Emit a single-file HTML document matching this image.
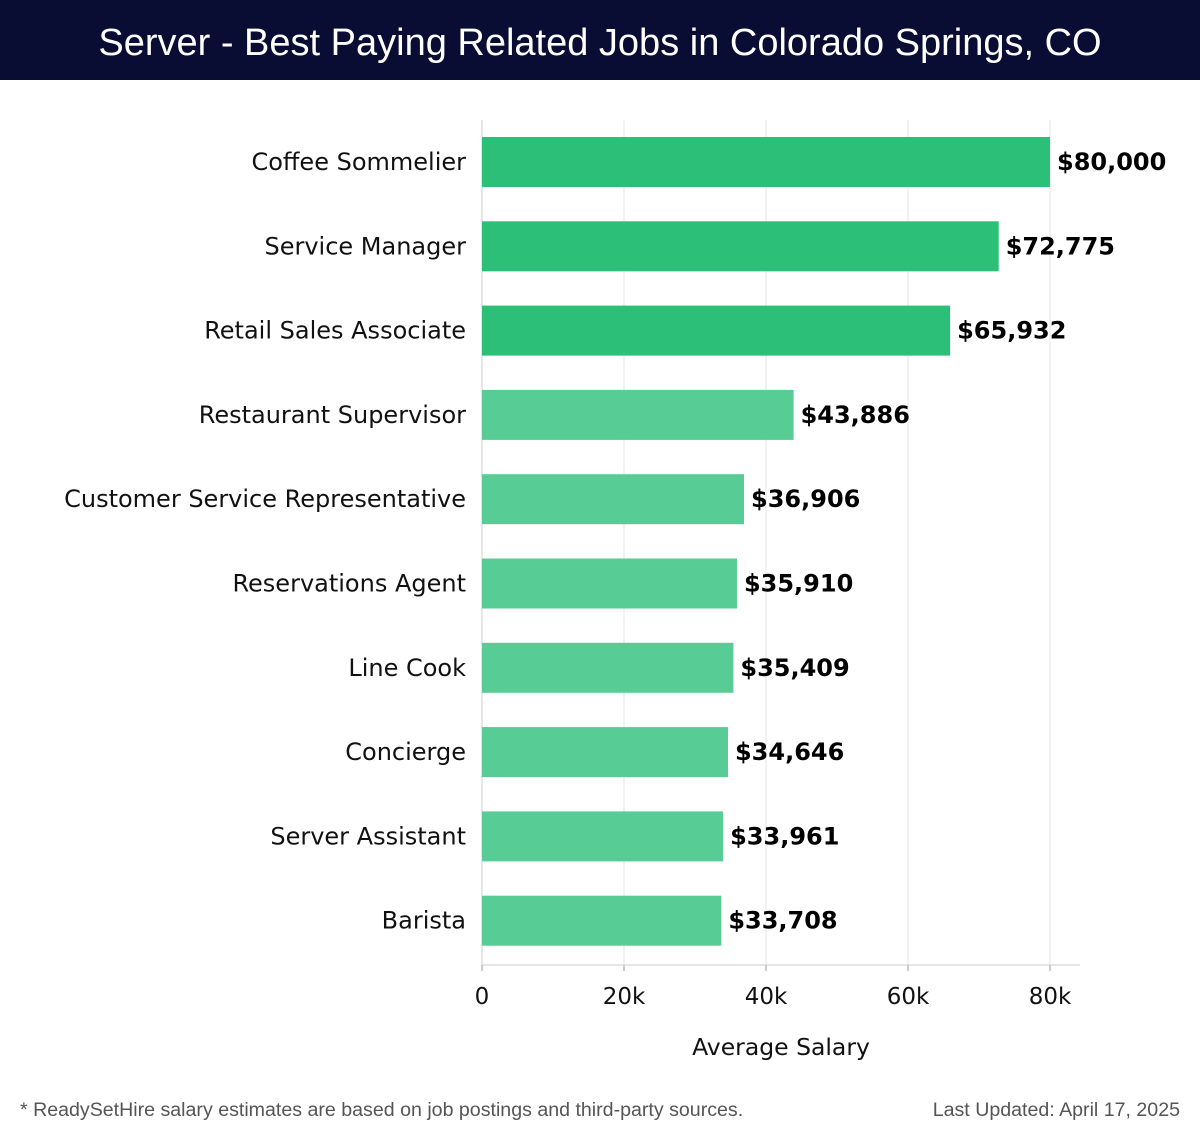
<!DOCTYPE html>
<html><head><meta charset="utf-8">
<style>
html,body{margin:0;padding:0;background:#fff;}
body{width:1200px;height:1140px;position:relative;overflow:hidden;font-family:"DejaVu Sans","Liberation Sans",sans-serif;}
#title{position:absolute;left:0;top:0;width:1200px;height:80px;background:#0a0d33;color:#fff;font-family:"Liberation Sans","DejaVu Sans",sans-serif;font-size:38px;line-height:86px;text-align:center;}
#foot-l{position:absolute;left:20px;top:1099px;font-size:19.6px;color:#555;font-family:"Liberation Sans",sans-serif;}
#foot-r{position:absolute;right:20px;top:1099px;font-size:19.6px;color:#555;font-family:"Liberation Sans",sans-serif;}
</style></head><body>
<div id="title">Server - Best Paying Related Jobs in Colorado Springs, CO</div>
<svg id="chart" width="1200" height="1140" style="position:absolute;left:0;top:0"></svg>
<div id="foot-l">* ReadySetHire salary estimates are based on job postings and third-party sources.</div>
<div id="foot-r">Last Updated: April 17, 2025</div>
<script>
const categories=["Coffee Sommelier","Service Manager","Retail Sales Associate","Restaurant Supervisor","Customer Service Representative","Reservations Agent","Line Cook","Concierge","Server Assistant","Barista"];
const salaries=[80000,72775,65932,43886,36906,35910,35409,34646,33961,33708];
const tickValues=[0,20000,40000,60000,80000];
const tickLabels=["0","20k","40k","60k","80k"];
const NS="http://www.w3.org/2000/svg";
const svg=document.getElementById('chart');
const x0=482,x1=1050,xMax=80000,top0=120,bottom0=965,step=84.3,bh=50;
const xs=v=>x0+(v/xMax)*(x1-x0);
const yc=i=>162+i*step;
function mk(t,a){const e=document.createElementNS(NS,t);for(const k in a)e.setAttribute(k,a[k]);svg.appendChild(e);return e;}
tickValues.forEach((v,i)=>{
  const g=mk('line',{x1:xs(v),x2:xs(v),y1:top0,y2:bottom0,stroke:i==0?'#ccc':'#e6e6e6','stroke-width':1});
  
  
  const tk=mk('line',{x1:xs(v),x2:xs(v),y1:bottom0,y2:bottom0+6,stroke:'#999'});
  
  
  const t=mk('text',{x:xs(v),y:1004,'text-anchor':'middle','font-size':23,fill:'#111'});
  t.textContent=tickLabels[i];
  
  
});
const ax=mk('line',{x1:x0,x2:1080,y1:bottom0,y2:bottom0,stroke:'#ccc'});


categories.forEach((c,i)=>{
  const y=yc(i);
  const r=mk('rect',{x:x0,y:y-bh/2,width:xs(salaries[i])-x0,height:bh,fill:i<3?'#2bbf78':'#57cc94'});
  
  
  const l=mk('text',{x:466,y:y+8,'text-anchor':'end','font-size':24,fill:'#111'});
  l.textContent=c;
  
  
  const v=mk('text',{x:xs(salaries[i])+7,y:y+8,'font-size':24,'font-weight':'bold',fill:'#000'});
  v.textContent='$'+salaries[i].toLocaleString('en-US');
  
  
});
const at=mk('text',{x:781,y:1055,'text-anchor':'middle','font-size':23.5,fill:'#111'});
at.textContent='Average Salary';


</script>
</body></html>
